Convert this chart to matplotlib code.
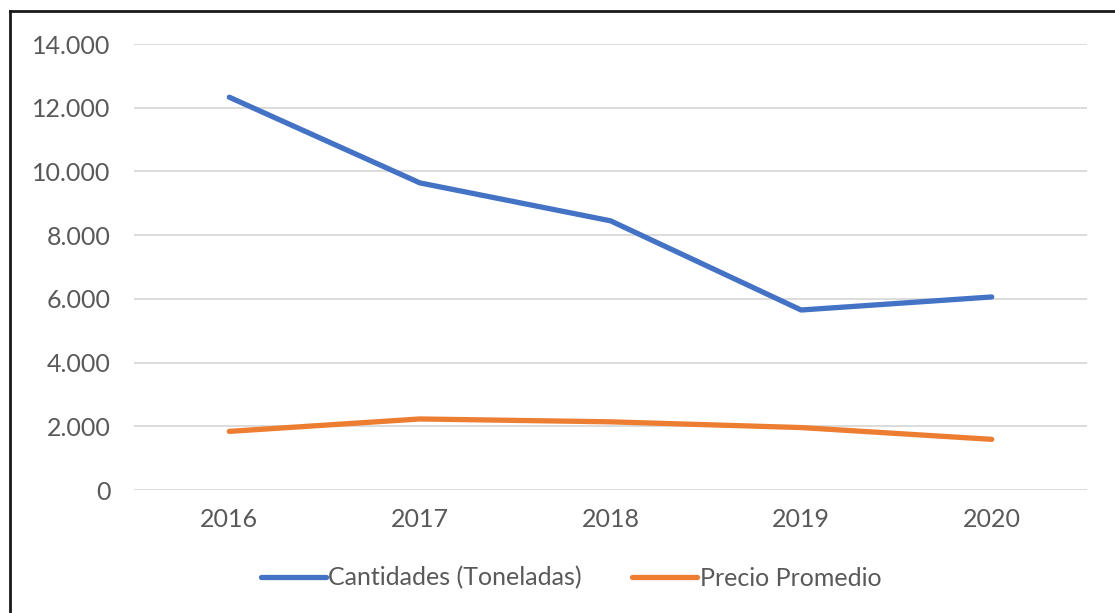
import matplotlib
matplotlib.use("Agg")
import matplotlib.pyplot as plt
from matplotlib.lines import Line2D
from matplotlib.ticker import FuncFormatter

years = ["2016", "2017", "2018", "2019", "2020"]
cantidades = [12330, 9640, 8450, 5650, 6060]
precio = [1840, 2230, 2140, 1960, 1590]
yticks = [0, 2000, 4000, 6000, 8000, 10000, 12000, 14000]

plt.rcParams['font.family'] = ['Lato', 'DejaVu Sans']

W, H = 1115, 613
fig = plt.figure(figsize=(W / 100, H / 100), dpi=100)
fig.patch.set_facecolor('white')

ax = fig.add_axes([134 / W, (H - 490) / H, 953 / W, 446 / H])
x = list(range(len(years)))
ax.plot(x, cantidades, color='#4472C4', lw=3.8, solid_capstyle='round',
        solid_joinstyle='round', label='Cantidades (Toneladas)', zorder=3)
ax.plot(x, precio, color='#ED7D31', lw=3.8, solid_capstyle='round',
        solid_joinstyle='round', label='Precio Promedio', zorder=3)

ax.set_xlim(-0.5, len(years) - 0.5)
ax.set_ylim(0, 14000)
ax.set_yticks(yticks)
ax.yaxis.set_major_formatter(FuncFormatter(lambda v, p: f"{int(v):,}".replace(",", ".")))
ax.set_xticks(x)
ax.set_xticklabels(years)
ax.grid(axis='y', color='#D9D9D9', lw=1.3)
ax.set_axisbelow(True)
for s in ax.spines.values():
    s.set_visible(False)
ax.tick_params(axis='both', length=0, labelsize=18, colors='#595959')
ax.tick_params(axis='y', pad=17)
ax.tick_params(axis='x', pad=13)

handles = [Line2D([], [], color='#4472C4', lw=3.8, solid_capstyle='round'),
           Line2D([], [], color='#ED7D31', lw=3.8, solid_capstyle='round')]
leg = fig.legend(handles, ['Cantidades (Toneladas)', 'Precio Promedio'],
                 loc='center', bbox_to_anchor=(571 / W, (H - 578) / H),
                 ncol=2, frameon=False, fontsize=18, handlelength=2.6,
                 handletextpad=0.1, columnspacing=2.0)
for t in leg.get_texts():
    t.set_color('#595959')

# outer frame (left and top edges visible)
fig.add_artist(Line2D([10 / W, 10 / W], [0, 1 - 11 / H], color='#1a1a1a', lw=2,
                      transform=fig.transFigure))
fig.add_artist(Line2D([10 / W, 1], [1 - 11 / H, 1 - 11 / H], color='#1a1a1a', lw=2,
                      transform=fig.transFigure))

fig.savefig('out.png', dpi=100)
